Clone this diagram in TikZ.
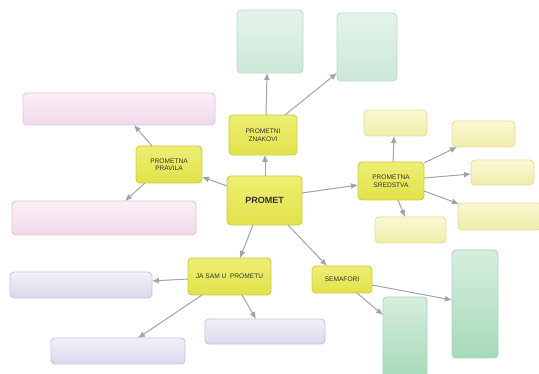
\documentclass[tikz,border=0pt]{standalone}
\usepackage{fontspec}
\setmainfont{Liberation Sans}
\usetikzlibrary{arrows.meta}
\definecolor{ylT}{HTML}{EEEE74}\definecolor{ylB}{HTML}{E2E24A}\definecolor{ylD}{HTML}{CCCC3C}
\definecolor{lyT}{HTML}{FAF8D2}\definecolor{lyB}{HTML}{F0EDAA}\definecolor{lyD}{HTML}{E2DE9E}
\definecolor{pkT}{HTML}{FCF0F7}\definecolor{pkB}{HTML}{F0D8EA}\definecolor{pkD}{HTML}{E2C4DA}
\definecolor{pgT}{HTML}{E4F4EA}\definecolor{pgB}{HTML}{CCE8D8}\definecolor{pgD}{HTML}{BEDCCC}
\definecolor{sgT}{HTML}{D6EEDF}\definecolor{sgB}{HTML}{A6D9B8}\definecolor{sgD}{HTML}{A8D6B8}
\definecolor{lvT}{HTML}{F2F0F9}\definecolor{lvB}{HTML}{DCD8EC}\definecolor{lvD}{HTML}{C8C4E0}
\definecolor{arrC}{HTML}{A2A2AC}
\definecolor{txtC}{HTML}{333333}
\newcommand{\lblfont}{\fontsize{6.6}{7.6}\selectfont}
\tikzset{
  box/.style={rectangle, rounded corners=4pt, line width=0.9pt, outer sep=0pt, inner sep=0pt, align=center, text=txtC},
  mainbox/.style={box, draw=ylD, top color=ylT, bottom color=ylB, font=\lblfont},
  lybox/.style={box, draw=lyD, top color=lyT, bottom color=lyB},
  pkbox/.style={box, draw=pkD, top color=pkT, bottom color=pkB},
  pgbox/.style={box, draw=pgD, top color=pgT, bottom color=pgB},
  sgbox/.style={box, draw=sgD, top color=sgT, bottom color=sgB},
  lvbox/.style={box, draw=lvD, top color=lvT, bottom color=lvB},
  arr/.style={draw=arrC, line width=1pt, -{Latex[length=7pt,width=6pt]}}
}
\newcommand{\bx}[7]{% style, name, left, top, right, bottom, text
  \node[#1, minimum width={(#5-#3)*1pt}, minimum height={(#6-#4)*1pt}] (#2) at ({(#3+#5)/2},{(#4+#6)/2}) {#7};}
\begin{document}
\begin{tikzpicture}[x=1pt,y=-1pt]
\useasboundingbox (0,0) rectangle (539,374);
\fill[white] (0,0) rectangle (539,374);
% central and secondary nodes
\bx{mainbox}{promet}{227}{176}{302}{225}{\fontsize{9}{10}\selectfont\bfseries PROMET}
\bx{mainbox}{znakovi}{229}{115}{297}{155}{PROMETNI\\ZNAKOVI}
\bx{mainbox}{pravila}{136}{146}{202}{183}{PROMETNA\\PRAVILA}
\bx{mainbox}{sredstva}{358}{162}{424}{200}{PROMETNA\\SREDSTVA}
\bx{mainbox}{jasam}{188}{258}{271}{295}{JA SAM U\ \ PROMETU}
\bx{mainbox}{semafori}{312}{266}{372}{293}{SEMAFORI}
% leaf boxes
\bx{pkbox}{pinkTop}{23}{93}{215}{125}{}
\bx{pkbox}{pinkBot}{12}{201}{196}{235}{}
\bx{pgbox}{greenTL}{237}{10}{303}{73}{}
\bx{pgbox}{greenTR}{337}{13}{397}{81}{}
\bx{lybox}{ylTop}{364}{110}{427}{136}{}
\bx{lybox}{ylRa}{452}{121}{515}{147}{}
\bx{lybox}{ylRb}{471}{160}{534}{185}{}
\bx{lybox}{ylRc}{458}{203}{541}{230}{}
\bx{lybox}{ylBot}{375}{217}{446}{243}{}
\bx{sgbox}{grnL}{383}{297}{427}{378}{}
\bx{sgbox}{grnR}{452}{250}{498}{358}{}
\bx{lvbox}{lavL}{10}{272}{152}{298}{}
\bx{lvbox}{lavB}{51}{338}{185}{364}{}
\bx{lvbox}{lavR}{205}{319}{325}{344}{}
% connectors
\draw[arr] ([shift={(0,10)}]promet.north west) -- ([shift={(66,31)}]pravila.north west);
\draw[arr] ([shift={(38,0)}]promet.north west) -- ([shift={(36,40)}]znakovi.north west);
\draw[arr] ([shift={(75,17)}]promet.north west) -- ([shift={(0,23)}]sredstva.north west);
\draw[arr] ([shift={(26,49)}]promet.north west) -- ([shift={(52,0)}]jasam.north west);
\draw[arr] ([shift={(61,49)}]promet.north west) -- ([shift={(15,0)}]semafori.north west);
\draw[arr] ([shift={(37,0)}]znakovi.north west) -- ([shift={(30,63)}]greenTL.north west);
\draw[arr] ([shift={(56,0)}]znakovi.north west) -- ([shift={(0,60)}]greenTR.north west);
\draw[arr] ([shift={(16,0)}]pravila.north west) -- ([shift={(111,32)}]pinkTop.north west);
\draw[arr] ([shift={(9,37)}]pravila.north west) -- ([shift={(113,0)}]pinkBot.north west);
\draw[arr] ([shift={(35,0)}]sredstva.north west) -- ([shift={(30,26)}]ylTop.north west);
\draw[arr] ([shift={(66,1)}]sredstva.north west) -- ([shift={(5,26)}]ylRa.north west);
\draw[arr] ([shift={(66,16)}]sredstva.north west) -- ([shift={(0,14)}]ylRb.north west);
\draw[arr] ([shift={(66,29)}]sredstva.north west) -- ([shift={(1,1)}]ylRc.north west);
\draw[arr] ([shift={(40,38)}]sredstva.north west) -- ([shift={(30,0)}]ylBot.north west);
\draw[arr] ([shift={(0,21)}]jasam.north west) -- ([shift={(142,9)}]lavL.north west);
\draw[arr] ([shift={(14,37)}]jasam.north west) -- ([shift={(87,0)}]lavB.north west);
\draw[arr] ([shift={(54,37)}]jasam.north west) -- ([shift={(51,0)}]lavR.north west);
\draw[arr] ([shift={(45,27)}]semafori.north west) -- ([shift={(0,18)}]grnL.north west);
\draw[arr] ([shift={(60,19)}]semafori.north west) -- ([shift={(0,50)}]grnR.north west);
\end{tikzpicture}
\end{document}
